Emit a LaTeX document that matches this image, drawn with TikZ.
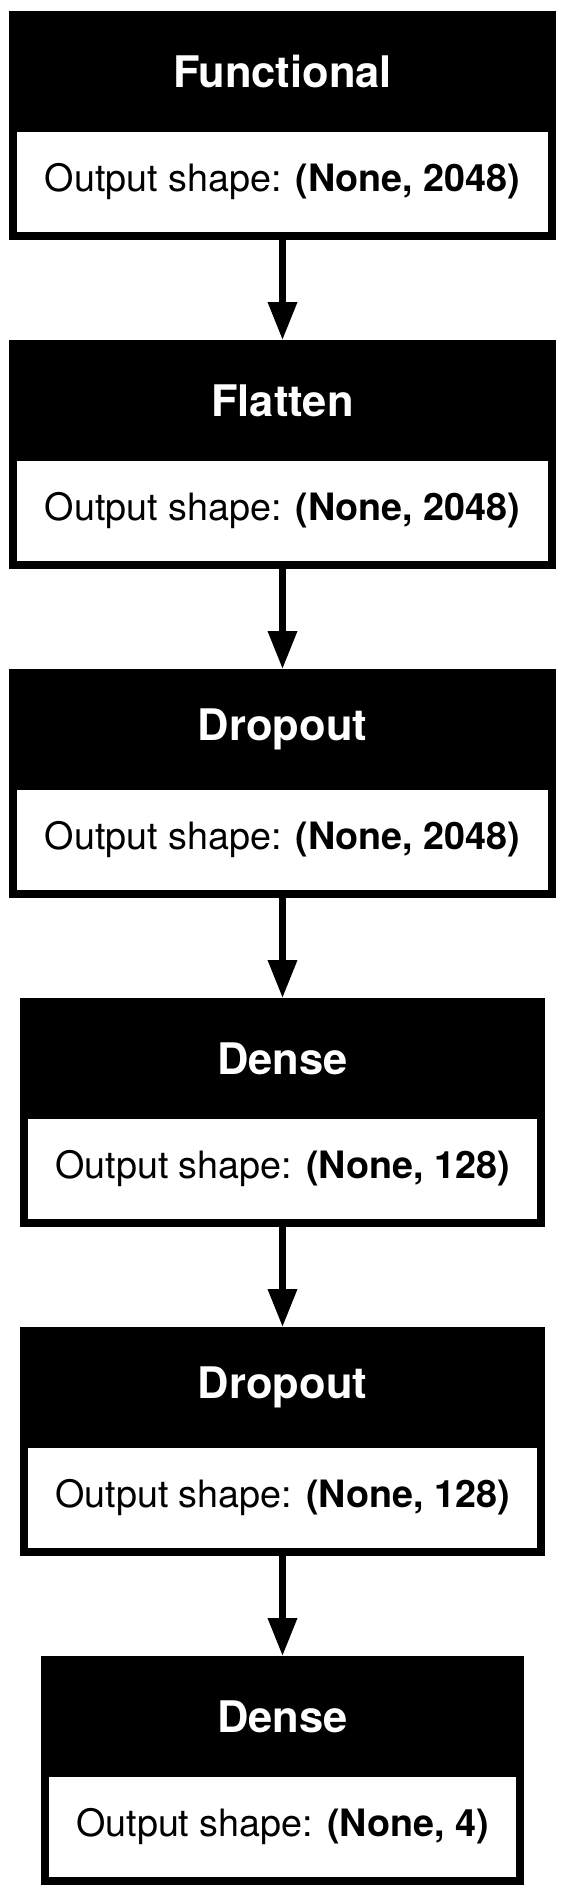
\documentclass[tikz,border=0pt]{standalone}
\usepackage{fontspec}
\setmainfont{TeX Gyre Heros}
\usetikzlibrary{arrows.meta,calc}
\begin{document}
\begin{tikzpicture}[x=1pt,y=-1pt]
\tikzset{
  layerbox/.style={fill=black, draw=none, inner sep=0pt, outer sep=0pt, minimum height=229pt},
  bodybox/.style={fill=white, draw=none, inner sep=0pt, outer sep=0pt, minimum height=100pt,
    font=\fontsize{37.7pt}{44pt}\selectfont},
  titletext/.style={text=white, inner sep=0pt, font=\fontsize{43.5pt}{50pt}\selectfont\bfseries},
  conn/.style={line width=6.7pt, -{Triangle[length=38pt,width=28pt]}}
}
\useasboundingbox (0,0) rectangle (565,1897);

% Layer 1
\node[layerbox, minimum width=547pt, anchor=north] (L1) at (282.5,11) {};
\node[bodybox, minimum width=531pt, anchor=south] (B1) at ([yshift=8pt]L1.south) {Output shape: \textbf{(None, 2048)}};
\node[titletext] (T1) at ($(L1.north)!0.5!(B1.north)$) {Functional};

% Layer 2
\node[layerbox, minimum width=547pt, anchor=north] (L2) at (282.5,340) {};
\node[bodybox, minimum width=531pt, anchor=south] (B2) at ([yshift=8pt]L2.south) {Output shape: \textbf{(None, 2048)}};
\node[titletext] (T2) at ($(L2.north)!0.5!(B2.north)$) {Flatten};

% Layer 3
\node[layerbox, minimum width=547pt, anchor=north] (L3) at (282.5,669) {};
\node[bodybox, minimum width=531pt, anchor=south] (B3) at ([yshift=8pt]L3.south) {Output shape: \textbf{(None, 2048)}};
\node[titletext] (T3) at ($(L3.north)!0.5!(B3.north)$) {Dropout};

% Layer 4
\node[layerbox, minimum width=525pt, anchor=north] (L4) at (282.5,998) {};
\node[bodybox, minimum width=509pt, anchor=south] (B4) at ([yshift=8pt]L4.south) {Output shape: \textbf{(None, 128)}};
\node[titletext] (T4) at ($(L4.north)!0.5!(B4.north)$) {Dense};

% Layer 5
\node[layerbox, minimum width=525pt, anchor=north] (L5) at (282.5,1327) {};
\node[bodybox, minimum width=509pt, anchor=south] (B5) at ([yshift=8pt]L5.south) {Output shape: \textbf{(None, 128)}};
\node[titletext] (T5) at ($(L5.north)!0.5!(B5.north)$) {Dropout};

% Layer 6
\node[layerbox, minimum width=483pt, anchor=north] (L6) at (282.5,1656) {};
\node[bodybox, minimum width=467pt, anchor=south] (B6) at ([yshift=8pt]L6.south) {Output shape: \textbf{(None, 4)}};
\node[titletext] (T6) at ($(L6.north)!0.5!(B6.north)$) {Dense};

% Connectors
\draw[conn] (L1.south) -- (L2.north);
\draw[conn] (L2.south) -- (L3.north);
\draw[conn] (L3.south) -- (L4.north);
\draw[conn] (L4.south) -- (L5.north);
\draw[conn] (L5.south) -- (L6.north);
\end{tikzpicture}
\end{document}
